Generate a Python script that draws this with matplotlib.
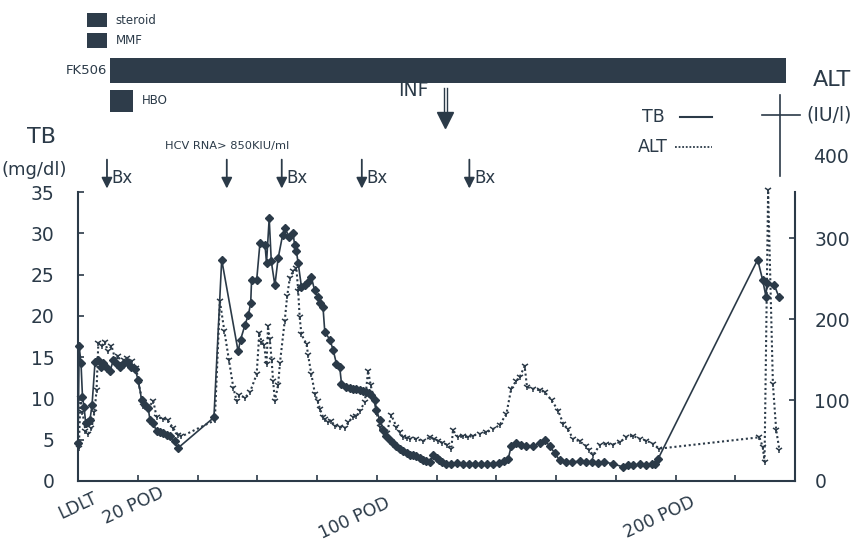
import matplotlib
matplotlib.use("Agg")
import matplotlib.pyplot as plt
from matplotlib.patches import Rectangle
from matplotlib.lines import Line2D

INK = '#2b3a48'

# total bilirubin (mg/dl), post-operative day
tb_day = [0, 0.4, 1.0, 1.5, 2.0, 2.6, 3.3, 4.0, 4.7, 5.7, 6.8, 7.6, 8.5, 9.6, 10.7,
          11.8, 12.9, 14.0, 15.1, 16.3, 17.9, 19.0, 20.2, 21.3, 22.4, 23.5, 24.1,
          25.2, 26.3, 27.4, 28.5, 29.7, 30.8, 32.4, 33.5, 45.5, 48.1, 53.6, 54.4,
          55.9, 57.0, 57.8, 58.1, 59.8, 60.9, 62.6, 63.1, 64.0, 64.7, 65.9, 67.0,
          68.5, 69.2, 70.7, 72.0, 72.5, 73.1, 73.7, 74.8, 75.9, 77.0, 78.1, 79.2,
          80.3, 80.9, 82.0, 82.6, 84.3, 85.4, 86.5, 87.6, 88.2, 89.8, 91.0, 92.0,
          93.0, 94.3, 95.5, 96.5, 97.5, 98.2, 99.3, 99.9, 101.0, 102.1, 103.2,
          104.3, 105.5, 106.6, 107.7, 108.8, 110.0, 111.0, 112.0, 113.3, 114.4,
          115.5, 116.6, 117.7, 118.8, 120.0, 121.0, 122.0, 123.3, 125.0, 127.0,
          129.0, 131.0, 133.0, 135.0, 137.0, 139.0, 141.0, 142.5, 144.0, 145.0,
          146.7, 148.4, 150.0, 152.4, 154.6, 156.2, 157.9, 159.6, 161.2, 163.5,
          165.5, 168.0, 170.0, 172.0, 174.0, 176.0, 179.0, 182.4, 184.0, 185.7,
          188.0, 190.0, 192.0, 193.0, 194.2, 227.5, 229.2, 230.3, 230.6, 233.1,
          234.6]
tb_val = [4.6, 16.3, 14.3, 10.2, 9.0, 7.0, 7.2, 7.4, 9.2, 14.4, 14.6, 13.8, 14.3,
          13.7, 13.3, 14.6, 14.2, 13.8, 14.2, 14.4, 13.8, 13.6, 12.2, 9.8, 9.2,
          8.8, 7.4, 7.0, 6.0, 5.9, 5.8, 5.6, 5.4, 4.8, 4.0, 7.7, 26.8, 15.7, 17.1,
          18.9, 20.1, 21.5, 24.3, 24.3, 28.8, 28.6, 26.4, 31.8, 26.6, 23.7, 27.0,
          29.8, 30.6, 29.6, 30.0, 28.6, 27.8, 26.4, 23.5, 23.7, 24.1, 24.7, 23.1,
          22.3, 21.5, 21.1, 18.1, 17.1, 15.9, 14.2, 13.8, 11.8, 11.4, 11.3, 11.2,
          11.1, 11.0, 10.9, 10.8, 10.6, 10.4, 9.8, 8.6, 7.4, 6.2, 5.5, 5.0, 4.6,
          4.2, 3.9, 3.6, 3.4, 3.2, 3.1, 3.0, 2.8, 2.5, 2.4, 2.3, 3.1, 2.8, 2.5,
          2.3, 2.1, 2.1, 2.2, 2.0, 2.1, 2.1, 2.0, 2.1, 2.1, 2.2, 2.4, 2.7, 4.2,
          4.6, 4.4, 4.2, 4.2, 4.6, 5.0, 4.2, 3.4, 2.5, 2.3, 2.3, 2.4, 2.3, 2.3,
          2.2, 2.3, 2.1, 1.7, 1.9, 1.9, 2.0, 1.9, 2.0, 2.1, 2.7, 26.8, 24.3, 22.3,
          24.0, 23.7, 22.3]

# ALT (IU/l), post-operative day
alt_day = [0, 0.3, 0.8, 1.5, 2.5, 3.5, 4.5, 5.5, 6.2, 6.8, 7.9, 9.0, 10.0, 11.2,
           12.5, 13.5, 14.5, 15.5, 16.5, 18.0, 19.5, 20.3, 21.9, 23.5, 25.2, 26.3,
           28.5, 30.1, 31.9, 33.5, 34.6, 45.8, 47.5, 49.0, 50.5, 52.0, 53.1, 54.0,
           55.9, 57.6, 59.8, 60.7, 61.4, 62.3, 63.1, 63.6, 64.2, 64.8, 65.3, 65.9,
           67.0, 67.6, 69.2, 70.0, 70.9, 72.0, 73.1, 73.7, 74.2, 74.8, 76.5, 77.0,
           78.1, 79.3, 80.2, 81.0, 82.0, 82.6, 83.7, 84.8, 86.0, 87.6, 89.3, 90.5,
           92.0, 93.2, 94.3, 96.0, 97.1, 98.0, 99.3, 99.9, 101.0, 102.0, 103.3,
           104.9, 106.6, 107.7, 108.8, 110.0, 111.0, 113.3, 115.5, 117.7, 119.0,
           120.4, 122.0, 123.5, 125.0, 125.5, 127.2, 129.0, 130.5, 132.2, 134.5,
           136.7, 138.9, 141.1, 143.4, 145.0, 146.7, 147.8, 149.5, 150.3, 152.3,
           154.6, 156.2, 158.5, 160.7, 162.4, 164.0, 165.7, 167.9, 170.2, 171.2,
           172.4, 174.6, 176.8, 179.0, 181.3, 183.5, 185.7, 188.0, 190.2, 192.4,
           194.6, 228.1, 229.2, 229.8, 231.0, 232.6, 233.7, 234.8]
alt_val = [46, 41, 102, 85, 62, 58, 65, 85, 112, 170, 167, 172, 160, 167, 150, 155,
           145, 150, 152, 148, 140, 120, 93, 90, 99, 79, 77, 75, 65, 57, 55, 75,
           222, 185, 150, 115, 99, 106, 103, 110, 132, 183, 172, 168, 144, 191,
           175, 150, 124, 99, 119, 146, 198, 228, 251, 259, 263, 235, 202, 181,
           169, 156, 132, 108, 99, 89, 79, 76, 73, 74, 68, 67, 65, 73, 79, 80, 87,
           97, 136, 118, 98, 85, 67, 62, 59, 81, 67, 60, 54, 53, 52, 52, 49, 54,
           52, 50, 47, 45, 40, 63, 54, 55, 54, 56, 58, 60, 64, 69, 83, 114, 124,
           128, 142, 116, 114, 112, 110, 100, 87, 71, 64, 52, 49, 43, 38, 32, 44,
           46, 45, 48, 54, 56, 52, 50, 46, 40, 54, 42, 24, 359, 120, 63, 38]

# immunosuppression / therapy periods (start day, end day)
regimens = ['steroid', 'MMF', 'FK506', 'HBO']
reg_start = [3.1, 3.1, 10.7, 10.7]
reg_end = [9.6, 9.6, 237.1, 18.4]

# liver biopsies and HCV RNA detection
bx_day = [9.7, 49.8, 68.2, 95.0, 131.0]
bx_label = ['Bx', '', 'Bx', 'Bx', 'Bx']
inf_day = 123.0

x_ticks = list(range(0, 241, 20))
x_label_day = [0, 20, 100, 200]
x_label_text = ['LDLT', '20 POD', '100 POD', '200 POD']
tb_ticks = [0, 5, 10, 15, 20, 25, 30, 35]
alt_ticks = [0, 100, 200, 300]

fig = plt.figure(figsize=(8.55, 5.49), dpi=100)
ax = fig.add_axes([78 / 855, 68 / 549, 717 / 855, 289 / 549])
ax2 = ax.twinx()

ax.set_xlim(0, 240)
ax.set_ylim(0, 35)
ax2.set_ylim(0, 357)

ax.plot(tb_day, tb_val, color=INK, lw=1.2, marker='D', ms=3.6,
        mfc=INK, mec=INK, clip_on=False, zorder=3)
ax2.plot(alt_day, alt_val, color=INK, lw=1.5, ls=(0, (1, 1.3)), marker='1',
         ms=5, mew=1.1, clip_on=False, zorder=3)

for a in (ax, ax2):
    a.spines['top'].set_visible(False)
    for s in a.spines.values():
        s.set_color(INK)
        s.set_linewidth(1.5)
ax.spines['right'].set_visible(False)
ax2.spines['left'].set_visible(False)
ax2.spines['bottom'].set_visible(False)

ax.set_xticks(x_ticks)
ax.set_xticklabels([])
ax.tick_params(axis='x', direction='in', length=4, width=1.2, color=INK)
ax.set_yticks(tb_ticks)
ax.tick_params(axis='y', direction='in', length=4, width=1.2, color=INK,
               labelsize=13.5, labelcolor=INK, pad=17)
ax2.set_yticks(alt_ticks)
ax2.tick_params(axis='y', direction='in', length=4, width=1.2, color=INK,
                labelsize=13.5, labelcolor=INK, pad=14)

xt = ax.get_xaxis_transform()
yt2 = ax2.get_yaxis_transform()

# rotated day labels under the axis
label_shift = [0, -1.5, -7.5, -5.5]
label_y = [-0.085, -0.085, -0.13, -0.125]
for d, t, sh, yy in zip(x_label_day, x_label_text, label_shift, label_y):
    ax.text(d + sh, yy, t, transform=xt, rotation=25, ha='center', va='center',
            fontsize=12.5, color=INK, clip_on=False)

# axis titles
fig.text(41 / 855, 1 - 137 / 549, 'TB', fontsize=16, color=INK, ha='center', va='center')
fig.text(34 / 855, 1 - 170 / 549, '(mg/dl)', fontsize=13, color=INK, ha='center', va='center')
fig.text(832 / 855, 1 - 80 / 549, 'ALT', fontsize=16, color=INK, ha='center', va='center')
fig.text(829 / 855, 1 - 115 / 549, '(IU/l)', fontsize=13.5, color=INK, ha='center', va='center')
ax2.text(1.0 + 18 / 717, 400, '400', transform=yt2, fontsize=13.5, color=INK,
         ha='left', va='center', clip_on=False)

# therapy bars above the plot
reg_y0 = [1.571, 1.498, 1.377, 1.277]
reg_y1 = [1.619, 1.550, 1.464, 1.353]
for name, s, e, y0, y1 in zip(regimens, reg_start, reg_end, reg_y0, reg_y1):
    ax.add_patch(Rectangle((s, y0), e - s, y1 - y0, transform=xt,
                           facecolor='#2e3c4a', edgecolor='none', clip_on=False))
    ym = (y0 + y1) / 2
    if name == 'FK506':
        ax.text(s - 1.0, ym, name, transform=xt, ha='right', va='center',
                fontsize=9.5, color=INK)
    else:
        ax.text(e + 3.0, ym, name, transform=xt, ha='left', va='center',
                fontsize=8.5, color=INK)

# biopsy arrows
for d, t in zip(bx_day, bx_label):
    ax.annotate('', xy=(d, 1.012), xytext=(d, 1.112), xycoords=xt, textcoords=xt,
                arrowprops=dict(arrowstyle='-|>', color=INK, lw=1.3,
                                mutation_scale=16, shrinkA=0, shrinkB=0))
    if t:
        ax.text(d + 1.6, 1.05, t, transform=xt, ha='left', va='center',
                fontsize=12, color=INK)

ax.text(bx_day[1], 1.16, 'HCV RNA> 850KIU/ml', transform=xt, ha='center',
        va='center', fontsize=8.2, color=INK)

# interferon start
for dx in (-0.6, 0.6):
    ax.plot([inf_day + dx, inf_day + dx], [1.36, 1.27], transform=xt,
            color=INK, lw=1.0, clip_on=False)
ax.plot([inf_day], [1.25], transform=xt, marker='v', ms=11, color=INK, clip_on=False)
ax.text(inf_day - 5.5, 1.35, 'INF', transform=xt, ha='right', va='center',
        fontsize=13.5, color=INK)

# legend
fig.text(665 / 855, 1 - 117 / 549, 'TB', fontsize=12.5, color=INK, ha='right', va='center')
fig.add_artist(Line2D([680 / 855, 712 / 855], [1 - 117 / 549] * 2, color=INK, lw=1.5))
fig.text(668 / 855, 1 - 147 / 549, 'ALT', fontsize=12.5, color=INK, ha='right', va='center')
fig.add_artist(Line2D([675 / 855, 712 / 855], [1 - 147 / 549] * 2, color=INK,
                      lw=1.3, ls=(0, (1, 1))))

# cross mark
fig.add_artist(Line2D([780 / 855] * 2, [1 - 95 / 549, 1 - 176 / 549], color=INK, lw=1.2))
fig.add_artist(Line2D([762 / 855, 800 / 855], [1 - 115 / 549] * 2, color=INK, lw=1.2))

fig.savefig('out.png', dpi=100, facecolor='white')
